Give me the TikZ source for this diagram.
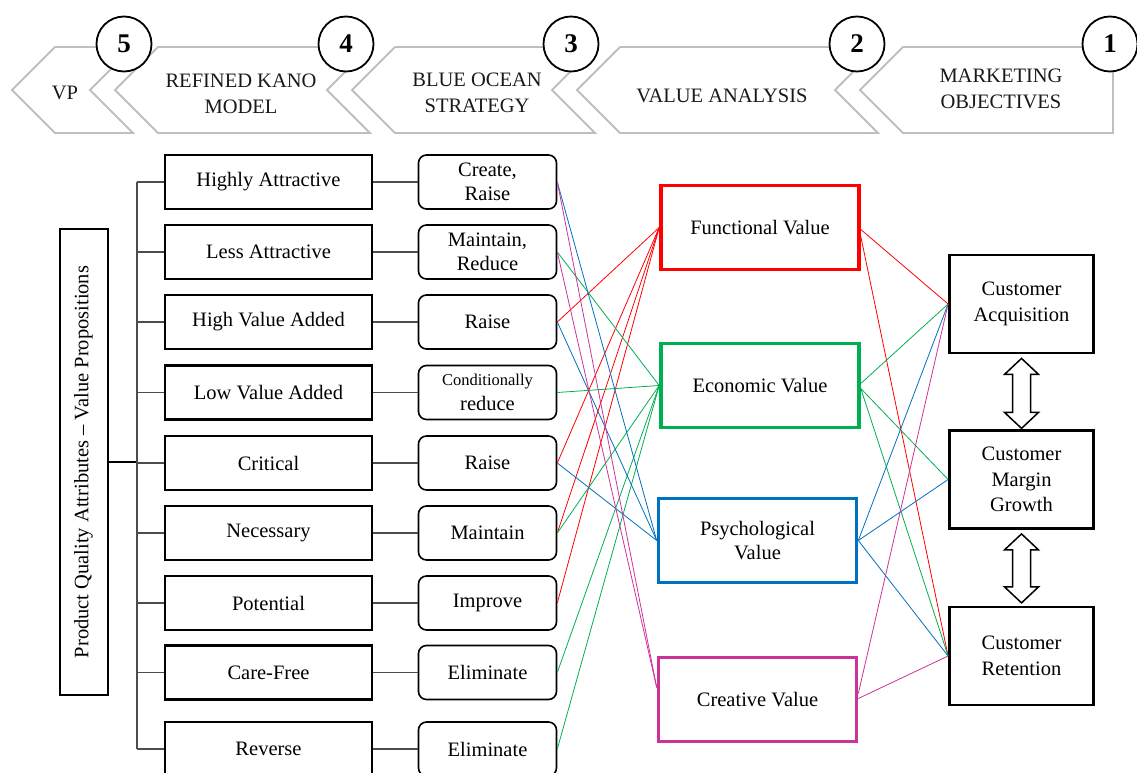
\documentclass[tikz,border=0pt]{standalone}
\usepackage{fontspec}
\setmainfont{Liberation Serif}
\definecolor{chevgray}{HTML}{BFBFBF}
\definecolor{fnred}{HTML}{FF0000}
\definecolor{ecgreen}{HTML}{00B050}
\definecolor{psblue}{HTML}{0070C0}
\definecolor{crmag}{HTML}{CC3399}
% hollow two-headed block arrow: #1 = top tip, #2 = length
\newcommand\blockarrow[2]{%
  \draw[darrow, shift={(#1)}] (0,0) -- (17,16) -- (9,16) -- (9,#2-16) -- (17,#2-16)
    -- (0,#2) -- (-17,#2-16) -- (-9,#2-16) -- (-9,16) -- (-17,16) -- cycle;}
\begin{document}
\begin{tikzpicture}[x=1pt,y=-1pt,
  txt/.style={font=\fontsize{20.5}{24.5}\selectfont, align=center, inner sep=0pt},
  attr/.style={txt, draw, line width=2.8pt, minimum width=207pt, minimum height=54pt},
  bos/.style={txt, draw, rounded corners=8pt, line width=1.6pt, minimum width=138pt, minimum height=54pt},
  valbox/.style={txt, draw, line width=3.6pt, minimum width=198pt, minimum height=84pt},
  cust/.style={txt, font=\fontsize{20.5}{25.5}\selectfont, draw, line width=2.8pt, minimum width=144pt, minimum height=98pt},
  numc/.style={circle, draw, line width=1.8pt, fill=white, minimum size=55pt, inner sep=0pt, font=\fontsize{27}{27}\selectfont\bfseries},
  chev/.style={draw=chevgray, line width=1.8pt, fill=white, line join=miter},
  head/.style={txt, text=black!90, font=\fontsize{20.5}{26}\selectfont},
  link/.style={line width=0.8pt},
  tree/.style={line width=1.3pt, draw=black!70},
  darrow/.style={draw=black, line width=1.5pt, fill=white, line join=miter}]
\useasboundingbox (0,0) rectangle (1137,773);

% ---- process chevrons ----
\draw[chev] (12,90) -- (55,47) -- (133,47) -- (90,90) -- (133,133) -- (55,133) -- cycle;
\draw[chev] (115,90) -- (158,47) -- (370,47) -- (327,90) -- (370,133) -- (158,133) -- cycle;
\draw[chev] (352,90) -- (395,47) -- (595,47) -- (552,90) -- (595,133) -- (395,133) -- cycle;
\draw[chev] (577,90) -- (620,47) -- (878,47) -- (835,90) -- (878,133) -- (620,133) -- cycle;
\draw[chev] (860,90) -- (903,47) -- (1113,47) -- (1113,133) -- (903,133) -- cycle;
\node[head] (hvp) at (65,93) {VP};
\node[head] (hkano) at (241,94) {REFINED KANO\\MODEL};
\node[head] (hbo) at (477,93) {BLUE OCEAN\\STRATEGY};
\node[head] (hva) at (722,96) {VALUE ANALYSIS};
\node[head] (hmo) at (1001,89) {MARKETING\\OBJECTIVES};
\node[numc] (n5) at (124,44) {5};
\node[numc] (n4) at (346,44) {4};
\node[numc] (n3) at (571,44) {3};
\node[numc] (n2) at (857,44) {2};
\node[numc] (n1) at (1110,44) {1};

% ---- root box ----
\node[txt, draw, line width=2pt, rotate=90, minimum width=466pt, minimum height=48pt]
  (pqa) at (83.5,462) {Product Quality Attributes -- Value Propositions};

% ---- Kano attributes and blue ocean actions ----
\foreach \i/\y/\a/\b in {
  1/182/{Highly Attractive}/{Create,\\Raise},
  2/252/{Less Attractive}/{Maintain,\\Reduce},
  3/322/{High Value Added}/{Raise},
  4/392.5/{Low Value Added}/{\fontsize{16.5}{21}\selectfont Conditionally\\reduce},
  5/463/{Critical}/{Raise},
  6/533/{Necessary}/{Maintain},
  7/603/{Potential}/{Improve},
  8/672.5/{Care-Free}/{Eliminate},
  9/749/{Reverse}/{Eliminate}} {
  \node[attr] (a\i) at (268.5,\y) {\a};
  \node[bos] (b\i) at (487.5,\y) {\b};
  \draw[tree] (a\i.east) -- (b\i.west);
}

% ---- tree ----
\coordinate (trunk) at (137,462);
\draw[line width=2pt] (pqa.south) -- (trunk);
\draw[tree] (a1.west -| trunk) -- (a9.west -| trunk);
\foreach \i in {1,...,9} \draw[tree] (a\i.west) -- (a\i.west -| trunk);

% ---- value types ----
\node[valbox, draw=fnred] (fv) at (760,227.5) {Functional Value};
\node[valbox, draw=ecgreen] (ev) at (760,385.5) {Economic Value};
\node[valbox, draw=psblue] (pv) at (757.5,540.5) {Psychological\\Value};
\node[valbox, draw=crmag] (cv) at (757.5,699.5) {Creative Value};

% ---- customer objectives ----
\node[cust] (ca) at (1021.5,304) {Customer\\Acquisition};
\node[cust] (cm) at (1021.5,479.5) {Customer\\Margin\\Growth};
\node[cust] (cr) at (1021.5,656) {Customer\\Retention};
\coordinate (t1) at ([yshift=-4pt]ca.south);
\coordinate (t2) at ([yshift=-4pt]cm.south);
\blockarrow{t1}{70}
\blockarrow{t2}{69}

% ---- action to value links ----
\foreach \i in {3,5,6,7} \draw[link, fnred] (b\i.east) -- (fv.west);
\foreach \i in {2,4,6,8,9} \draw[link, ecgreen] (b\i.east) -- (ev.west);
\foreach \i in {1,3,5} \draw[link, psblue] (b\i.east) -- (pv.west);
\foreach \i in {1,2} \draw[link, crmag] (b\i.east) -- ([yshift=12pt]cv.west);

% ---- value to objective links ----
\draw[link, fnred] ([yshift=-2pt]fv.east) -- (ca.west);
\draw[link, fnred] ([yshift=-9pt]fv.east) -- (cr.west);
\draw[link, ecgreen] ([yshift=2pt]ev.east) -- (ca.west);
\draw[link, ecgreen] ([yshift=-3pt]ev.east) -- (cm.west);
\draw[link, ecgreen] ([yshift=-3pt]ev.east) -- (cr.west);
\draw[link, psblue] (pv.east) -- (ca.west);
\draw[link, psblue] (pv.east) -- (cm.west);
\draw[link, psblue] (pv.east) -- (cr.west);
\draw[link, crmag] ([yshift=6pt]cv.east) -- (ca.west);
\draw[link, crmag] ([yshift=1pt]cv.east) -- (cr.west);
\end{tikzpicture}
\end{document}
